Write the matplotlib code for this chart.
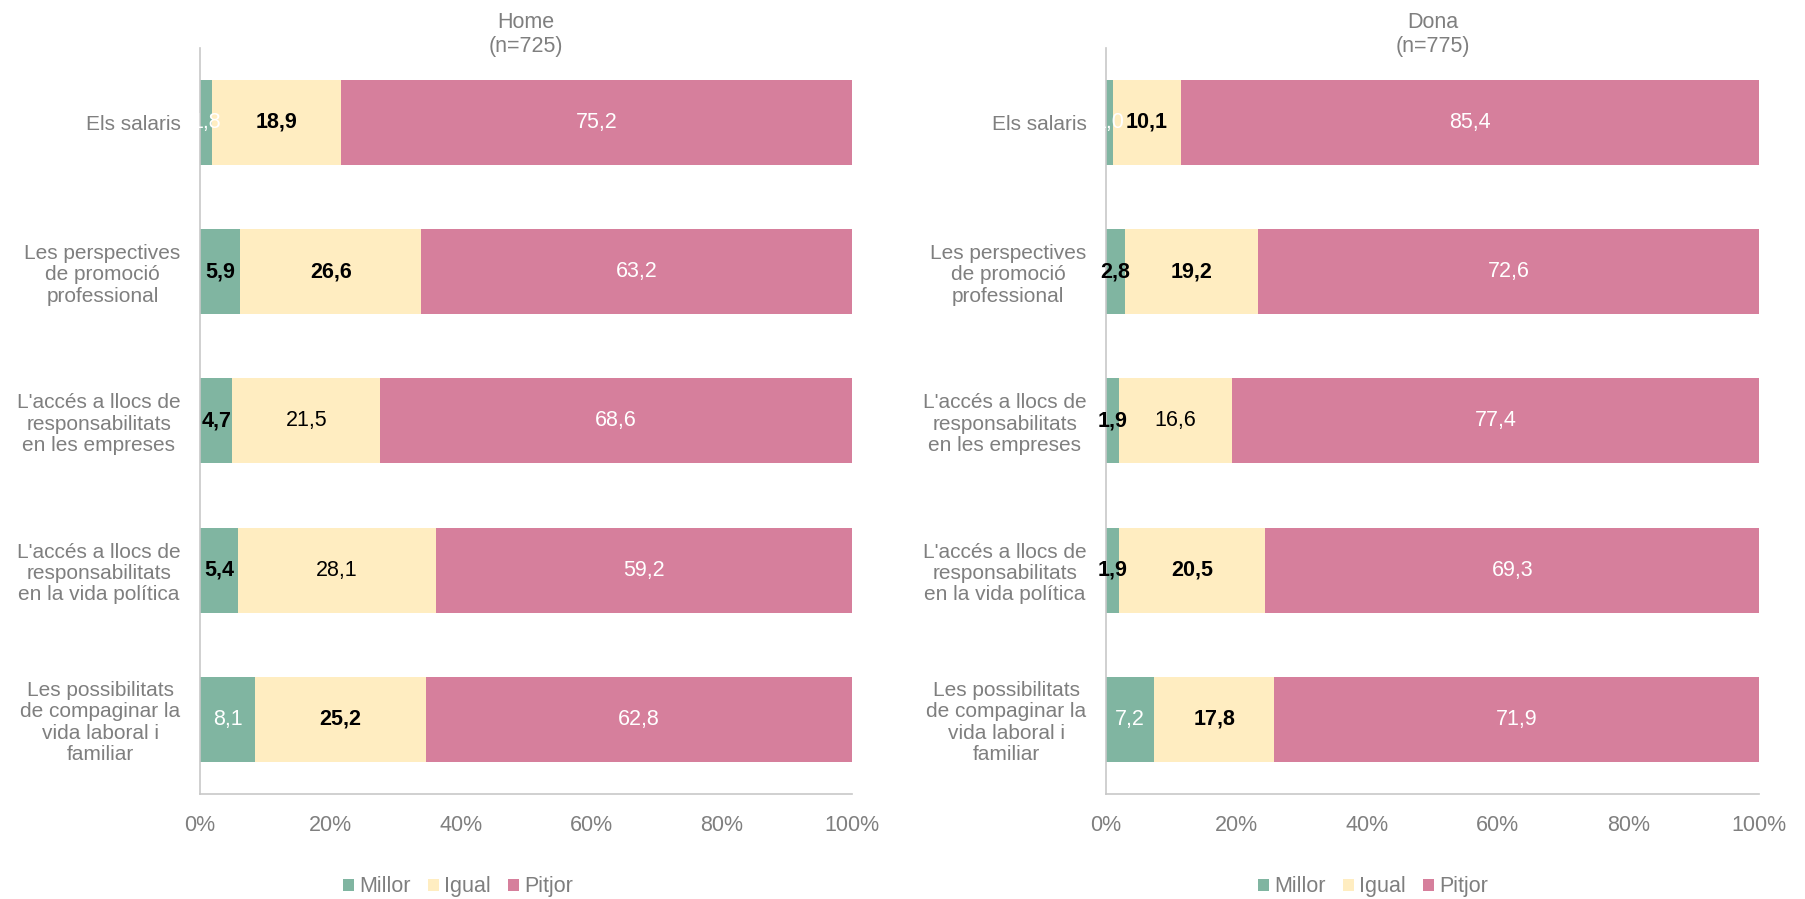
import matplotlib.pyplot as plt
from matplotlib.patches import Patch
import numpy as np

plt.rcParams["font.family"] = ["Liberation Sans", "DejaVu Sans"]

categories = [
    "Els salaris",
    "Les perspectives\nde promoció\nprofessional",
    "L'accés a llocs de\nresponsabilitats\nen les empreses",
    "L'accés a llocs de\nresponsabilitats\nen la vida política",
    "Les possibilitats\nde compaginar la\nvida laboral i\nfamiliar",
]
series_names = ["Millor", "Igual", "Pitjor"]

home_millor = [1.8, 5.9, 4.7, 5.4, 8.1]
home_igual = [18.9, 26.6, 21.5, 28.1, 25.2]
home_pitjor = [75.2, 63.2, 68.6, 59.2, 62.8]

dona_millor = [1.0, 2.8, 1.9, 1.9, 7.2]
dona_igual = [10.1, 19.2, 16.6, 20.5, 17.8]
dona_pitjor = [85.4, 72.6, 77.4, 69.3, 71.9]

titles = ["Home\n(n=725)", "Dona\n(n=775)"]

COLORS = ["#80b5a1", "#ffedc1", "#d67f9c"]
TEXT_GRAY = "#7f7f7f"
FS = 15.5

# label style per segment: (color, bold)
home_styles = [
    [("white", False), ("black", True), ("white", False)],
    [("black", True), ("black", True), ("white", False)],
    [("black", True), ("black", False), ("white", False)],
    [("black", True), ("black", False), ("white", False)],
    [("white", False), ("black", True), ("white", False)],
]
dona_styles = [
    [("white", False), ("black", True), ("white", False)],
    [("black", True), ("black", True), ("white", False)],
    [("black", True), ("black", False), ("white", False)],
    [("black", True), ("black", True), ("white", False)],
    [("white", False), ("black", True), ("white", False)],
]


def fmt(v):
    return f"{v:.1f}".replace(".", ",")


def draw_panel(ax, values, styles, title):
    data = np.array(values, dtype=float).T  # rows = categories
    shares = data / data.sum(axis=1, keepdims=True) * 100
    y = np.arange(len(categories))
    left = np.zeros(len(categories))
    for j in range(3):
        bars = ax.barh(y, shares[:, j], left=left, height=0.57,
                       color=COLORS[j], edgecolor="none")
        for i, rect in enumerate(bars):
            color, bold = styles[i][j]
            ax.text(rect.get_x() + rect.get_width() / 2, y[i], fmt(data[i, j]),
                    ha="center", va="center", fontsize=FS, color=color,
                    fontweight="bold" if bold else "normal", clip_on=False,
                    zorder=4)
        left += shares[:, j]

    ax.set_xlim(0, 100)
    ax.set_ylim(4.5, -0.5)
    ax.set_xticks(range(0, 101, 20))
    ax.set_xticklabels([f"{t}%" for t in range(0, 101, 20)])
    ax.set_yticks(y)
    ax.set_yticklabels(categories, multialignment="center", linespacing=1.15)
    ax.tick_params(axis="both", length=0, labelcolor=TEXT_GRAY)
    ax.tick_params(axis="x", pad=15, labelsize=FS)
    ax.tick_params(axis="y", pad=14, labelsize=15)
    for side in ["top", "right"]:
        ax.spines[side].set_visible(False)
    for side in ["left", "bottom"]:
        ax.spines[side].set_color("#c8c8c8")
        ax.spines[side].set_linewidth(1.2)
    ax.text(0.5, 0.988, title, transform=ax.transAxes, ha="center", va="bottom",
            fontsize=FS, color=TEXT_GRAY, linespacing=1.2)


fig = plt.figure(figsize=(18.05, 8.99), dpi=100)
ax1 = fig.add_axes([0.1108, 0.1168, 0.3612, 0.830])
ax2 = fig.add_axes([0.6127, 0.1168, 0.3618, 0.830])

draw_panel(ax1, [home_millor, home_igual, home_pitjor], home_styles, titles[0])
draw_panel(ax2, [dona_millor, dona_igual, dona_pitjor], dona_styles, titles[1])

handles = [Patch(facecolor=c, edgecolor="none") for c in COLORS]
for xc in [0.2537, 0.7607]:
    fig.legend(handles, series_names, loc="center", bbox_to_anchor=(xc, 0.0135),
               ncol=3, frameon=False, fontsize=FS, labelcolor=TEXT_GRAY,
               handlelength=0.5, handleheight=0.5, handletextpad=0.25,
               columnspacing=0.8)

fig.savefig("out.png", dpi=100)
